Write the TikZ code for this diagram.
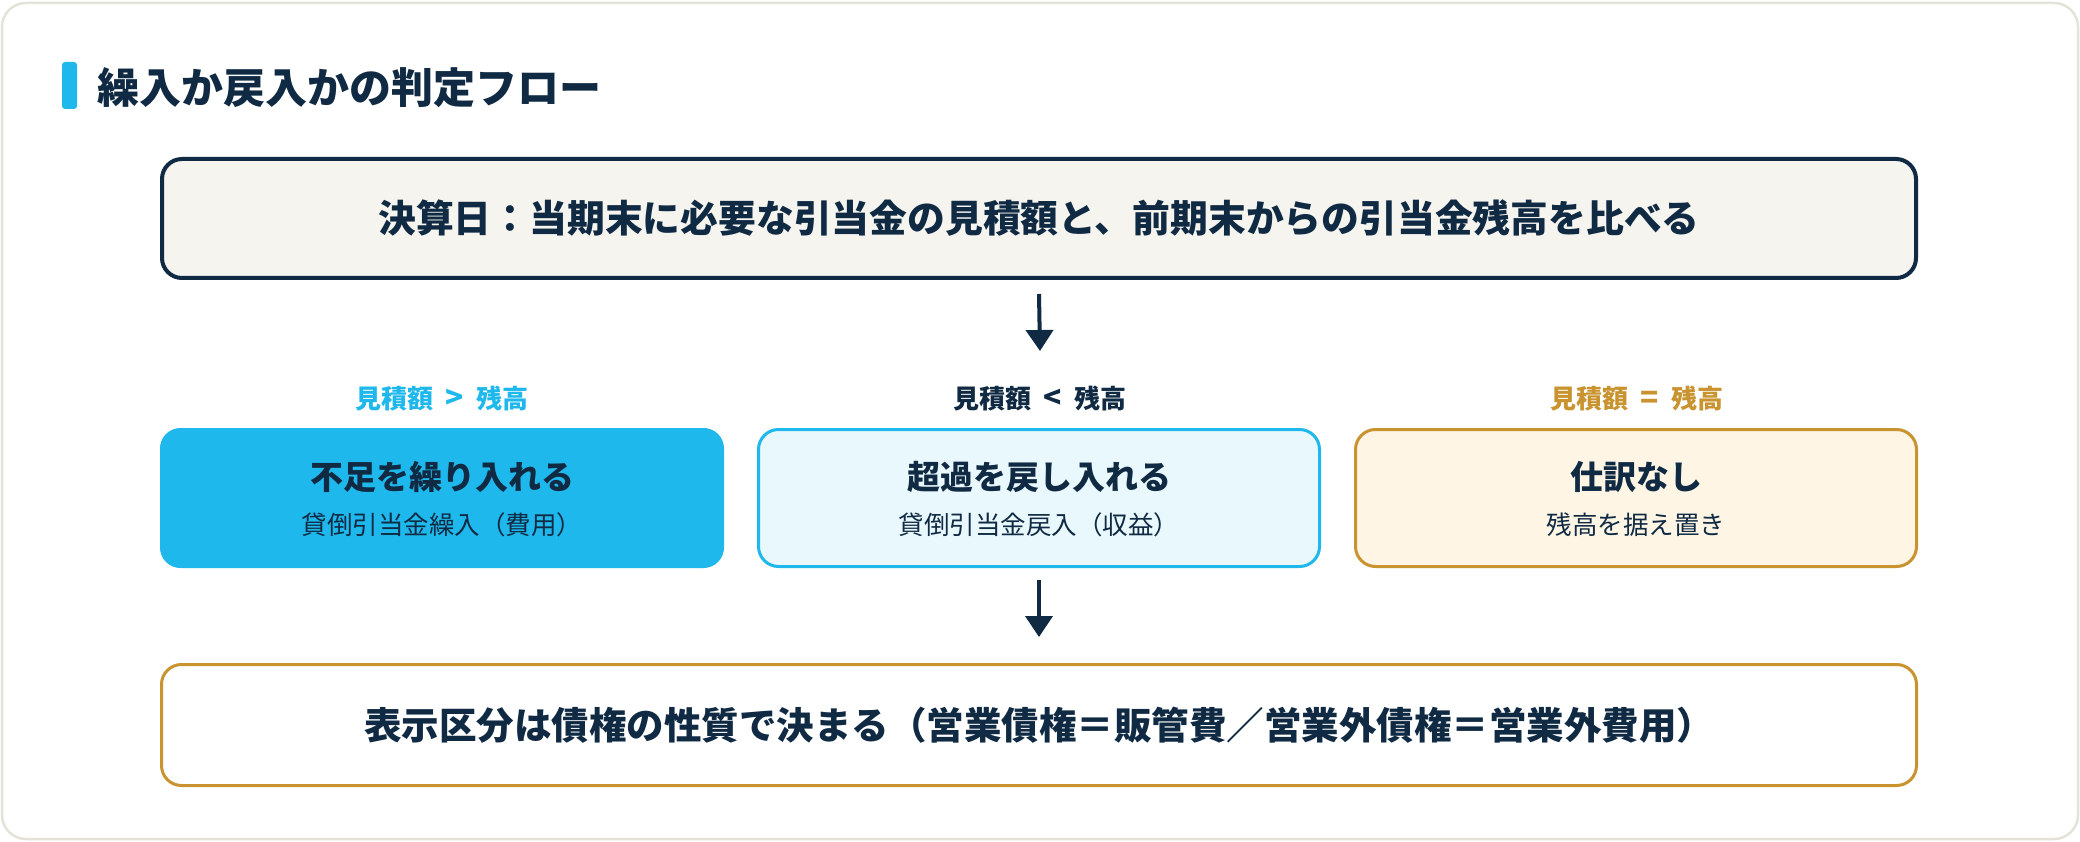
\documentclass[tikz,border=0pt]{standalone}
\usepackage{fontspec}
\setmainfont{Noto Sans CJK JP}
\usetikzlibrary{arrows.meta,calc}
\definecolor{navy}{HTML}{102A43}
\definecolor{cyanc}{HTML}{1EB8EC}
\definecolor{lightcyan}{HTML}{E9F8FD}
\definecolor{goldc}{HTML}{C9932F}
\definecolor{cream}{HTML}{FEF5E5}
\definecolor{topfill}{HTML}{F5F4EF}
\definecolor{cardline}{HTML}{E5E3D9}
\newcommand{\fs}[1]{\fontsize{#1}{#1}\selectfont}
\newcommand{\rel}[1]{\hspace{12pt}{\fontsize{30}{30}\selectfont #1}\hspace{12pt}}
\begin{document}
\begin{tikzpicture}[x=1pt,y=-1pt,
  box/.style={rectangle,rounded corners=20pt,inner sep=0pt},
  ttl/.style={text=navy,font=\fs{33}\bfseries},
  sub/.style={text=navy,font=\fs{25.5}},
  lbl/.style={font=\fs{26}\bfseries},
  flow/.style={draw=navy,line width=4pt,-{Triangle[width=27pt,length=21pt]}}]
\useasboundingbox (0,0) rectangle (2080,842);
\fill[white] (0,0) rectangle (2080,842);
\draw[cardline,line width=2.5pt,fill=white,rounded corners=24pt] (2,3) rectangle (2078,839);
% title
\fill[cyanc,rounded corners=3pt] (62,62) rectangle (77,109);
\node[anchor=west,text=navy,font=\fs{42}\bfseries,inner sep=0pt] (title) at (97,88) {繰入か戻入かの判定フロー};
% top box
\node[box,draw=navy,fill=topfill,line width=4pt,minimum width=1754pt,minimum height=119pt] (top) at (1039,218.5) {};
\node[text=navy,font=\fs{37.8}\bfseries] (toptxt) at (top.center) {決算日：当期末に必要な引当金の見積額と、前期末からの引当金残高を比べる};
\coordinate (a1end) at (1040,351);
\draw[flow] ([yshift=-14pt]top.south) -- (a1end);
% labels
\node[lbl,text=cyanc] (l1) at (442,399) {見積額\rel{>}残高};
\node[lbl,text=navy] (l2) at (1040,399) {見積額\rel{<}残高};
\node[lbl,text=goldc] (l3) at (1637,399) {見積額\rel{=}残高};
% three boxes
\node[box,fill=cyanc,draw=cyanc,line width=1pt,minimum width=563pt,minimum height=139pt] (b1) at (442,498) {};
\node[box,fill=lightcyan,draw=cyanc,line width=3pt,minimum width=561pt,minimum height=137pt] (b2) at (1039,498) {};
\node[box,fill=cream,draw=goldc,line width=3pt,minimum width=561pt,minimum height=137pt] (b3) at (1636,498) {};
\node[ttl] (b1t) at ([yshift=21pt]b1.center) {不足を繰り入れる};
\node[sub] (b1s) at ([yshift=-27pt]b1.center) {貸倒引当金繰入（費用）};
\node[ttl] (b2t) at ([yshift=21pt]b2.center) {超過を戻し入れる};
\node[sub] (b2s) at ([yshift=-27pt]b2.center) {貸倒引当金戻入（収益）};
\node[ttl] (b3t) at ([yshift=21pt]b3.center) {仕訳なし};
\node[sub] (b3s) at ([yshift=-27pt]b3.center) {残高を据え置き};
% bottom box
\node[box,fill=white,draw=goldc,line width=3pt,minimum width=1755pt,minimum height=121pt] (bot) at (1039,725) {};
\node[text=navy,font=\fs{37.5}\bfseries] (bottxt) at (bot.center) {表示区分は債権の性質で決まる（営業債権＝販管費／営業外債権＝営業外費用）};
\draw[flow] ([yshift=-12pt]b2.south) -- ([yshift=26pt]bot.north);
\end{tikzpicture}
\end{document}
